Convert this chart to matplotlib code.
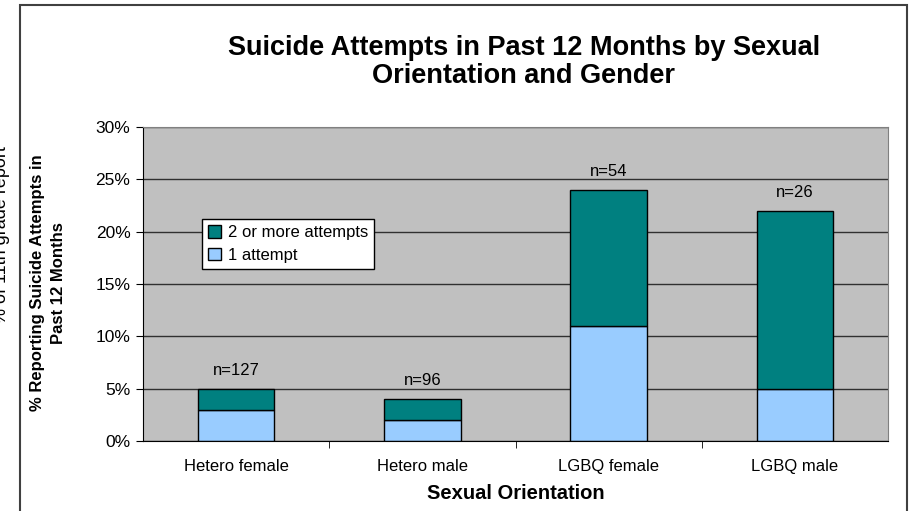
import matplotlib
matplotlib.use('Agg')
import matplotlib.pyplot as plt
from matplotlib.patches import Rectangle
import numpy as np

plt.rcParams['font.family'] = ['Liberation Sans', 'DejaVu Sans']

# data
groups = ['Hetero female', 'Hetero male', 'LGBQ female', 'LGBQ male']
one_attempt = [3, 2, 11, 5]
two_plus = [2, 2, 13, 17]
n_labels = ['n=127', 'n=96', 'n=54', 'n=26']
y_ticks = [0, 5, 10, 15, 20, 25, 30]

W, H = 909, 511
fig = plt.figure(figsize=(W / 100, H / 100), dpi=100)
ax = fig.add_axes([143 / W, 1 - 441 / H, (888 - 143) / W, (441 - 127) / H])

# outer chart frame (bottom runs off the image)
fig.patches.append(Rectangle((20 / W, -0.1), (907 - 20) / W, 1 - 5 / H + 0.1,
                             transform=fig.transFigure, fill=False,
                             edgecolor='#404040', linewidth=1.5))

ax.set_facecolor('#C0C0C0')
x = np.arange(len(groups))
bw = 0.41
ax.set_axisbelow(True)
ax.yaxis.grid(True, color='#303030', linewidth=1)
ax.bar(x, one_attempt, bw, color='#99CCFF', edgecolor='black', linewidth=1, label='1 attempt')
ax.bar(x, two_plus, bw, bottom=one_attempt, color='#008080', edgecolor='black', linewidth=1,
       label='2 or more attempts')

for xi, a, b, lab in zip(x, one_attempt, two_plus, n_labels):
    ax.annotate(lab, (xi, a + b), xytext=(0, 8), textcoords='offset points',
                ha='center', va='bottom', fontsize=12)

ax.set_xlim(-0.5, 3.5)
ax.set_ylim(0, 30)
ax.set_yticks(y_ticks)
ax.set_yticklabels([f'{v}%' for v in y_ticks], fontsize=12.5)
ax.set_xticks(x)
ax.set_xticklabels(groups, fontsize=12)
ax.set_xticks([0.5, 1.5, 2.5], minor=True)
ax.tick_params(axis='x', which='major', length=0, pad=13)
ax.tick_params(axis='x', which='minor', length=5, direction='out')
ax.tick_params(axis='y', length=5, direction='out', pad=4)
for s in ['top', 'right']:
    ax.spines[s].set_color('#808080')
ax.spines['left'].set_color('black')
ax.spines['bottom'].set_color('black')

h, l = ax.get_legend_handles_labels()
leg = ax.legend(h[::-1], l[::-1], loc='upper left', bbox_to_anchor=(0.079, 0.707),
                fontsize=12, frameon=True, fancybox=False, edgecolor='black',
                framealpha=1, handlelength=0.8, handleheight=0.8, handletextpad=0.4,
                borderpad=0.35, labelspacing=0.45, borderaxespad=0)
leg.get_frame().set_linewidth(1)

fig.text(524 / W, 1 - 62 / H, 'Suicide Attempts in Past 12 Months by Sexual\nOrientation and Gender',
         ha='center', va='center', fontsize=19.5, fontweight='bold', linespacing=1.1)
fig.text(516 / W, 1 - 493 / H, 'Sexual Orientation', ha='center', va='center',
         fontsize=14.5, fontweight='bold')
fig.text(48 / W, 1 - 283 / H, '% Reporting Suicide Attempts in\nPast 12 Months', ha='center',
         va='center', rotation=90, fontsize=12, fontweight='bold', linespacing=1.45)
# clipped label at far left edge, as in the source image
fig.text(2 / W, 1 - 235 / H, '% of 11th grade report', ha='center', va='center',
         rotation=90, fontsize=13)

fig.savefig('out.png', dpi=100)
